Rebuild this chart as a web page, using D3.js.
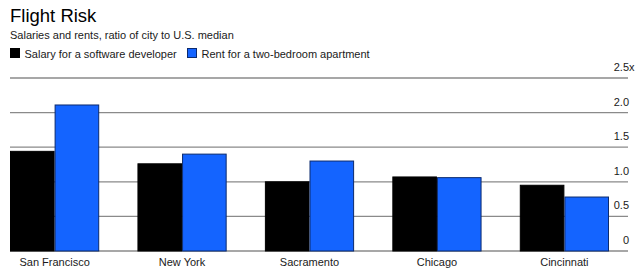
<!DOCTYPE html>
<html>
<head>
<meta charset="utf-8">
<script src="https://cdn.jsdelivr.net/npm/d3@7"></script>
<style>
  body { margin: 0; background: #fff; }
  svg { display: block; font-family: "Liberation Sans", Arial, sans-serif; }
</style>
</head>
<body>
<div id="chart"></div>
<script>
// data
var cities = ['San Francisco', 'New York', 'Sacramento', 'Chicago', 'Cincinnati'];
var salary = [1.44, 1.26, 1.0, 1.07, 0.95];
var rent = [2.11, 1.4, 1.3, 1.06, 0.78];
var seriesNames = ['Salary for a software developer', 'Rent for a two-bedroom apartment'];
var yTicks = [0, 0.5, 1, 1.5, 2, 2.5];
var yTickLabels = ['0', '0.5', '1.0', '1.5', '2.0', '2.5'];

var width = 640, height = 280;
var colors = ['#000000', '#1464ff'];
var strokes = ['#000000', '#0b2a6e'];
var fs = 11;

var svg = d3.select('#chart').append('svg')
  .attr('width', width)
  .attr('height', height);

// titles
svg.append('text').attr('x', 10).attr('y', 22)
  .attr('font-size', 18.5).attr('fill', '#000').text('Flight Risk');
svg.append('text').attr('x', 10).attr('y', 39)
  .attr('font-size', fs).attr('fill', '#1a1a1a')
  .text('Salaries and rents, ratio of city to U.S. median');

// legend
var legX = [10, 187];
seriesNames.forEach(function (name, i) {
  var g = svg.append('g').attr('transform', 'translate(' + legX[i] + ',48)');
  g.append('rect').attr('x', 0.5).attr('y', 0.5).attr('width', 9).attr('height', 9)
    .attr('fill', colors[i]).attr('stroke', strokes[i]);
  g.append('text').attr('x', 14.5).attr('y', 9.5)
    .attr('font-size', fs).attr('fill', '#1a1a1a').text(name);
});

// scales
var x0 = d3.scaleBand().domain(cities).range([10, 609]).paddingInner(0.3).paddingOuter(0);
var x1 = d3.scaleBand().domain([0, 1]).range([0, x0.bandwidth()]);
var y = d3.scaleLinear().domain([0, 2.5]).range([251, 78]);

// grid + y labels
var grid = svg.append('g');
grid.selectAll('line').data(yTicks).enter().append('line')
  .attr('x1', 10).attr('x2', 628)
  .attr('y1', function (d) { return y(d); })
  .attr('y2', function (d) { return y(d); })
  .attr('stroke', '#8a8a8a').attr('stroke-width', 1.3);
grid.selectAll('text').data(yTicks).enter().append('text')
  .attr('x', 629).attr('y', function (d) { return y(d) - 7; })
  .attr('text-anchor', 'end').attr('font-size', fs).attr('fill', '#1a1a1a')
  .text(function (d, i) { return yTickLabels[i]; });
svg.append('text').attr('x', 629).attr('y', y(2.5) - 7)
  .attr('font-size', fs).attr('fill', '#1a1a1a').text('x');

// bars
var groups = svg.append('g').selectAll('g').data(cities).enter().append('g')
  .attr('transform', function (d) { return 'translate(' + x0(d) + ',0)'; });
groups.selectAll('rect')
  .data(function (d, i) { return [salary[i], rent[i]]; })
  .enter().append('rect')
  .attr('x', function (d, j) { return x1(j) + 0.5; })
  .attr('y', function (d) { return y(d); })
  .attr('width', x1.bandwidth() - 1)
  .attr('height', function (d) { return y(0) - y(d); })
  .attr('fill', function (d, j) { return colors[j]; })
  .attr('stroke', function (d, j) { return strokes[j]; })
  .attr('stroke-width', 1);

// x labels
svg.append('g').selectAll('text').data(cities).enter().append('text')
  .attr('x', function (d) { return x0(d) + x0.bandwidth() / 2; })
  .attr('y', 266)
  .attr('text-anchor', 'middle').attr('font-size', fs).attr('fill', '#1a1a1a')
  .text(function (d) { return d; });
</script>
</body>
</html>
